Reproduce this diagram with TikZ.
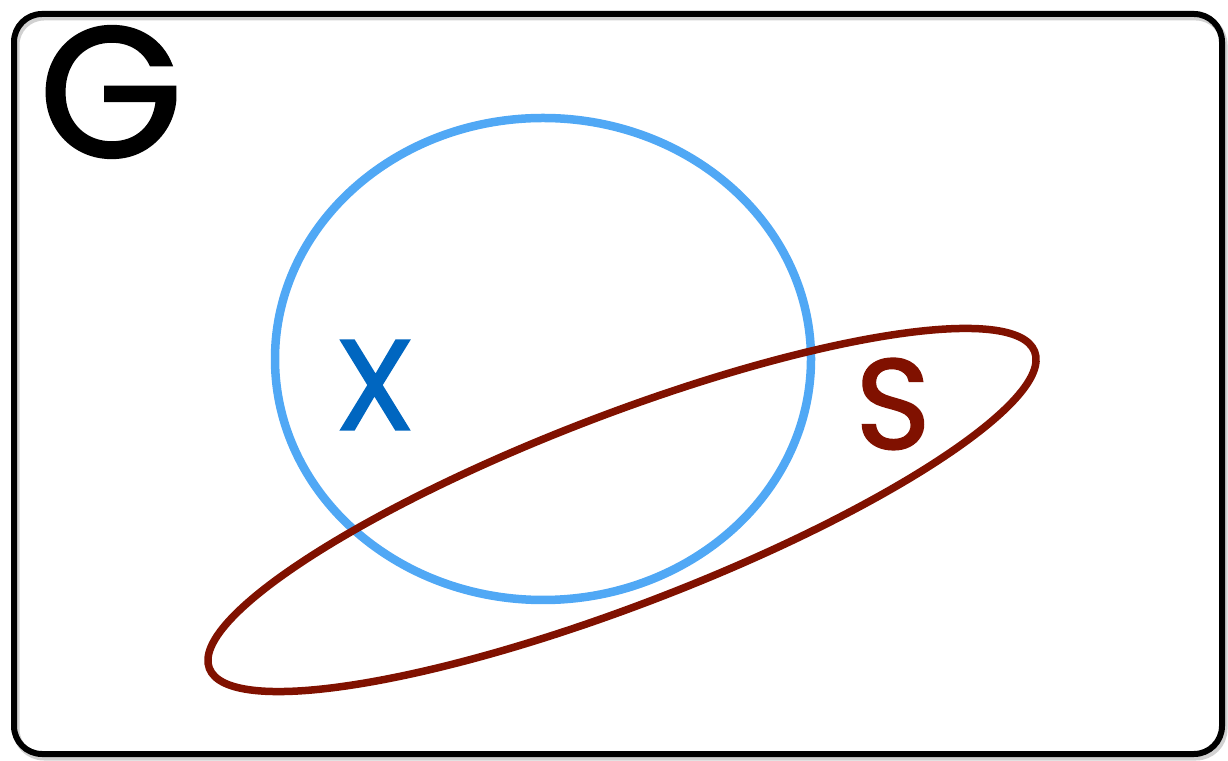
\documentclass[tikz,border=0pt]{standalone}
\usepackage{fontspec}
\setmainfont{Poppins}
\newfontfamily\setfont{Poppins}[FakeBold=1.5]
\definecolor{setblue}{RGB}{80,168,245}
\definecolor{labelblue}{RGB}{0,102,192}
\definecolor{setred}{RGB}{128,17,0}
\begin{document}
\begin{tikzpicture}[x=1pt, y=1pt, every node/.style={inner sep=0pt, font=\setfont}]
  \useasboundingbox (0,0) rectangle (1228,760);
  % frame of G
  \draw[black!18, line width=7pt, rounded corners=28pt] (16,3) rectangle (1224,743);
  \draw[line width=6pt, rounded corners=28pt] (14,6) rectangle (1222,746);
  % the sets
  \draw[setblue, line width=8.5pt] (543,401) ellipse [x radius=268, y radius=241];
  \draw[setred, line width=7.5pt, rotate around={21:(622,250)}] (622,250) ellipse [x radius=442, y radius=95];
  % labels
  \node (G) at (111,668) {\fontsize{185}{185}\selectfont G};
  \node[labelblue] (X) at (375,375) {\fontsize{128}{128}\selectfont X};
  \node[setred] (S) at (893,356) {\fontsize{128}{128}\selectfont S};
\end{tikzpicture}
\end{document}
